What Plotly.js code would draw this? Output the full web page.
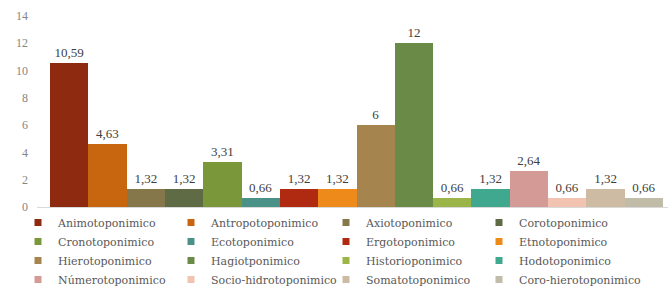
<!DOCTYPE html>
<html><head><meta charset="utf-8">
<script src="https://cdn.plot.ly/plotly-3.0.1.min.js"></script>
<style>html,body{margin:0;padding:0;background:#fff}#chart{width:671px;height:287px}</style>
</head><body><div id="chart"></div>
<script>
const categories = ["Animotoponimico","Antropotoponimico","Axiotoponimico","Corotoponimico",
  "Cronotoponimico","Ecotoponimico","Ergotoponimico","Etnotoponimico",
  "Hierotoponimico","Hagiotponimico","Historioponimico","Hodotoponimico",
  "Númerotoponimico","Socio-hidrotoponimico","Somatotoponimico","Coro-hierotoponimico"];
const values = [10.59, 4.63, 1.32, 1.32, 3.31, 0.66, 1.32, 1.32, 6, 12, 0.66, 1.32, 2.64, 0.66, 1.32, 0.66];
const colors = ["#8e2a10","#c8650f","#86774a","#5e6b44","#7a973a","#4a9288","#b02a12","#ee8a1a",
  "#a5844e","#6a8a48","#9cb548","#40a88e","#d49a96","#f1c3b0","#cdbba4","#c0bca8"];
const yTicks = [0,2,4,6,8,10,12,14];

const SERIF = "Liberation Serif";
const LEGFONT = "DejaVu Serif";
const traces = [];
categories.forEach((c, i) => {
  traces.push({
    type: "bar", x: [c], y: [values[i]], name: c, legendgroup: c, showlegend: false,
    marker: {color: colors[i], line: {width: 0}},
    texttemplate: "%{y}", textposition: "outside", cliponaxis: false,
    textfont: {family: SERIF, size: 13, color: "#404040"},
    hoverinfo: "x+y"
  });
});
const legendNames = ["legend","legend2","legend3","legend4"];
categories.forEach((c, i) => {
  traces.push({
    type: "scatter", mode: "markers", x: [null], y: [null], name: c, legendgroup: c,
    legend: legendNames[i % 4],
    marker: {symbol: "square", size: 7, color: colors[i]}, hoverinfo: "skip"
  });
});

const colX = [18/671, 171/671, 326/671, 479/671];
const legBase = {
  xref: "container", yref: "container", xanchor: "left", yanchor: "top",
  y: 1 - 208/287, orientation: "v", bgcolor: "rgba(0,0,0,0)",
  font: {family: LEGFONT, size: 11, color: "#595959"}, tracegroupgap: 0, itemwidth: 30
};
const layout = {
  width: 671, height: 287,
  font: {family: SERIF},
  margin: {l: 37, r: 3, t: 16, b: 80, autoexpand: false},
  paper_bgcolor: "#fff", plot_bgcolor: "#fff",
  barmode: "overlay", bargap: 0,
  separators: ",.",
  showlegend: true,
  xaxis: {type: "category", range: [-0.84, 15.63], showticklabels: false, ticks: "",
    showgrid: false, zeroline: false, showline: true, linecolor: "#d9d9d9", linewidth: 1, fixedrange: true},
  yaxis: {range: [0, 14], tickvals: yTicks, ticktext: yTicks.map(String), showgrid: false,
    zeroline: false, showline: false, ticks: "", ticklabelstandoff: 8,
    tickfont: {family: SERIF, size: 12, color: "#858585"}, fixedrange: true}
};
legendNames.forEach((ln, k) => { layout[ln] = Object.assign({}, legBase, {x: colX[k]}); });

Plotly.newPlot("chart", traces, layout, {displayModeBar: false, staticPlot: true});
</script></body></html>
